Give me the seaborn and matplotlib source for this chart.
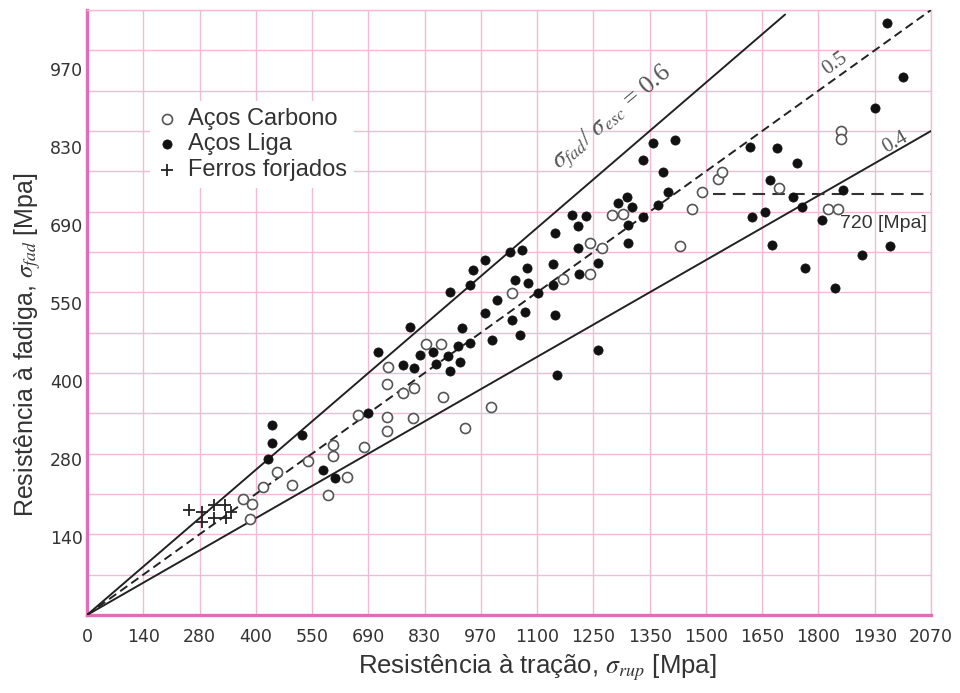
import matplotlib
matplotlib.use("Agg")
import matplotlib.pyplot as plt
import seaborn as sns
import numpy as np
import pandas as pd

# ---------------- data (MPa) ----------------
carbono_x = [383, 405, 400, 432, 466, 503, 542, 603, 603, 591, 638, 679, 665, 736, 736,
             736, 738, 775, 802, 800, 873, 927, 831, 868, 991, 1042, 1167, 1234, 1263,
             1234, 1288, 1315, 1454, 1484, 1508, 1548, 1557, 1697, 1849, 1849, 1817, 1842]
carbono_y = [198, 190, 164, 219, 245, 222, 263, 291, 272, 205, 236, 287, 342, 315, 339,
             395, 424, 380, 388, 337, 373, 320, 464, 464, 356, 551, 575, 636, 628,
             583, 684, 686, 631, 695, 724, 746, 758, 730, 828, 814, 695, 695]

liga_x = [454, 454, 444, 527, 579, 608, 689, 714, 775, 802, 817, 849, 856, 885, 890,
          915, 910, 939, 792, 920, 890, 939, 947, 976, 1037, 1067, 1079, 1050, 1082,
          1006, 976, 1042, 1074, 1106, 1143, 1143, 1148, 1190, 1224, 1204, 1204, 1207,
          1148, 1062, 993, 1153, 1253, 1253, 1302, 1324, 1337, 1327, 1327, 1364, 1400,
          1425, 1413, 1364, 1388, 1442, 1962, 2001, 1933, 1626, 1692, 1741, 1675, 1732,
          1754, 1631, 1663, 1680, 1761, 1803, 1854, 1901, 1969, 1835]
liga_y = [325, 294, 267, 308, 248, 234, 346, 450, 428, 423, 445, 450, 429, 443, 417,
          433, 460, 465, 493, 491, 553, 565, 590, 607, 621, 624, 594, 573, 568,
          539, 517, 505, 518, 551, 565, 600, 653, 684, 683, 665, 628, 583,
          513, 479, 470, 411, 453, 602, 705, 715, 698, 667, 636, 681, 701,
          724, 758, 778, 807, 813, 1013, 920, 867, 801, 799, 773, 744, 715,
          698, 681, 689, 633, 594, 676, 727, 616, 631, 559]

forjado_x = [250, 282, 312, 339, 282, 312, 341, 354]
forjado_y = [180, 176, 188, 188, 159, 166, 166, 176]

ratios = [0.6, 0.5, 0.4]
ratio_end_x = [1712, 2070, 2070]
ratio_labels = [r"$\sigma_{fad}$/ $\sigma_{esc}$ = 0.6", "0.5", "0.4"]

limit_value = 720
limit_x = [1535, 2070]

xtick_labels = ['0', '140', '280', '400', '550', '690', '830', '970', '1100', '1250',
                '1350', '1500', '1650', '1800', '1930', '2070']
ytick_labels = ['140', '280', '400', '550', '690', '830', '970']

# ---------------- style ----------------
sns.set_theme(style="white")
plt.rcParams['font.family'] = ['Liberation Sans', 'DejaVu Sans']
plt.rcParams['mathtext.fontset'] = 'stix'

pink_grid = '#f3b9d5'
pink_spine = '#e26cb8'
ink = '#222222'

fig = plt.figure(figsize=(9.6, 6.93), dpi=100)
ax = fig.add_axes([87 / 960, 1 - 615 / 693, 844 / 960, 605 / 693])

# ratio lines
styles = [dict(linestyle='-'), dict(linestyle=(0, (4.5, 2.5))), dict(linestyle='-')]
for r, xe, st in zip(ratios, ratio_end_x, styles):
    d = pd.DataFrame({'x': [0, xe], 'y': [0, r * xe]})
    sns.lineplot(data=d, x='x', y='y', ax=ax, color=ink, lw=1.4, zorder=3, **st)

# endurance limit line
d = pd.DataFrame({'x': limit_x, 'y': [limit_value] * 2})
sns.lineplot(data=d, x='x', y='y', ax=ax, color='#333333', lw=1.5,
             linestyle=(0, (6, 3.5)), zorder=3)

# scatter series
dc = pd.DataFrame({'x': carbono_x, 'y': carbono_y})
dl = pd.DataFrame({'x': liga_x, 'y': liga_y})
df = pd.DataFrame({'x': forjado_x, 'y': forjado_y})
sns.scatterplot(data=dc, x='x', y='y', ax=ax, marker='o', s=52, facecolors='white',
                edgecolor='#555555', linewidth=1.2, label='Aços Carbono', zorder=4)
sns.scatterplot(data=dl, x='x', y='y', ax=ax, marker='o', s=44, color='#111111',
                edgecolor='#111111', linewidth=0.5, label='Aços Liga', zorder=4)
sns.scatterplot(data=df, x='x', y='y', ax=ax, marker='+', s=80, color='#222222',
                linewidth=1.3, label='Ferros forjados', zorder=4)

# axes limits / ticks
ax.set_xlim(0, 2070)
ax.set_ylim(0, 1035)
ax.set_xticks([138 * k for k in range(len(xtick_labels))])
ax.set_xticklabels(xtick_labels)
ax.set_yticks([133.4 * (k + 1) for k in range(len(ytick_labels))])
ax.set_yticklabels(ytick_labels)
ax.set_yticks([69 * k for k in range(16)], minor=True)
for lab in ax.get_xticklabels() + ax.get_yticklabels():
    lab.set_fontfamily('DejaVu Sans')
    lab.set_fontsize(12.5)
    lab.set_color('#333333')
ax.tick_params(axis='both', which='both', length=0)
ax.tick_params(axis='x', pad=9)
ax.tick_params(axis='y', pad=3)

ax.grid(False)
ax.xaxis.grid(True, which='major', color=pink_grid, lw=1.0)
ax.yaxis.grid(True, which='minor', color=pink_grid, lw=1.0)
ax.set_axisbelow(True)

for side in ['left', 'bottom']:
    ax.spines[side].set_color(pink_spine)
    ax.spines[side].set_linewidth(2.4)
for side in ['top', 'right']:
    ax.spines[side].set_color(pink_grid)
    ax.spines[side].set_linewidth(1.0)

ax.set_xlabel(r"Resistência à tração, $\sigma_{rup}$ [Mpa]", fontsize=18.5, color='#333333')
ax.set_ylabel(r"Resistência à fadiga, $\sigma_{fad}$ [Mpa]", fontsize=18, color='#333333')
ax.xaxis.set_label_coords(0.533, -0.062)
ax.yaxis.set_label_coords(-0.052, 0.446)

# annotations
ann_pos = [(1290, 850, 40), (1835, 944, 36), (1982, 809, 30)]
ann_size = [18.5, 15, 15]
for txt, (x, y, rot), fs in zip(ratio_labels, ann_pos, ann_size):
    ax.text(x, y, txt, rotation=rot, rotation_mode='anchor', ha='center', va='center',
            fontsize=fs, color='#555555', family='Liberation Serif', zorder=5)
ax.text(1847, 669, f"{limit_value} [Mpa]", fontsize=14, color='#333333',
        ha='left', va='center', zorder=5)

leg = ax.legend(loc='upper left', bbox_to_anchor=(0.075, 0.850), frameon=True,
                facecolor='white', edgecolor='none', framealpha=1, fontsize=17,
                handlelength=0.8, handletextpad=0.5, labelspacing=0.15,
                borderpad=0.3, borderaxespad=0)
for t in leg.get_texts():
    t.set_color('#333333')

fig.savefig('out.png', dpi=100, facecolor='white')
